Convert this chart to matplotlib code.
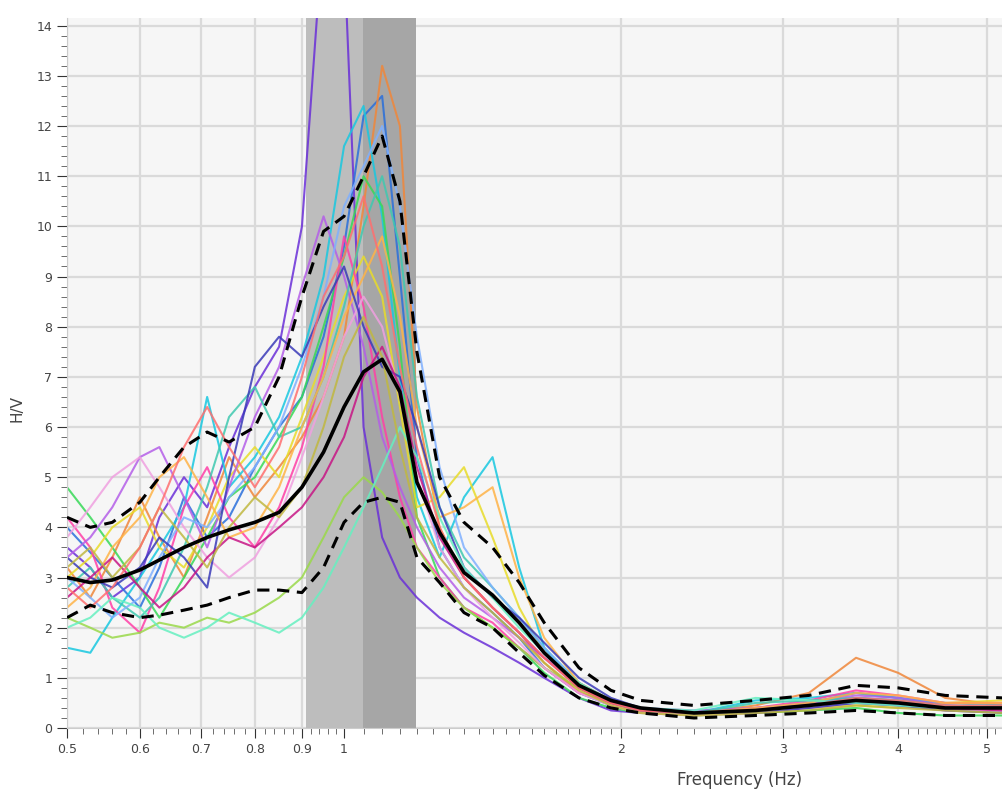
import matplotlib
matplotlib.use('Agg')
from matplotlib import pyplot as plt
from matplotlib.ticker import FixedLocator, MultipleLocator, NullFormatter
import numpy

# frequency samples shared by every curve (Hz)
FREQ = [0.50, 0.53, 0.56, 0.60, 0.63, 0.67, 0.71, 0.75, 0.80, 0.85,
        0.90, 0.95, 1.00, 1.05, 1.10, 1.15, 1.20, 1.27, 1.35, 1.45,
        1.55, 1.65, 1.80, 1.95, 2.10, 2.40, 2.80, 3.20, 3.60, 4.00,
        4.50, 5.20]

# H/V ratio of the individual time windows
WIN_01 = [3.6, 3.2, 2.6, 3.0, 4.2, 5.0, 4.4, 5.6, 6.8, 7.6, 10.0, 16.0, 15.5, 6.0, 3.8, 3.0,
          2.6, 2.2, 1.9, 1.6, 1.3, 1.0, 0.6, 0.35, 0.3, 0.3, 0.4, 0.5, 0.7, 0.6, 0.45, 0.4]
WIN_02 = [4.0, 3.5, 3.0, 2.4, 3.2, 4.6, 3.8, 4.2, 5.2, 6.0, 6.6, 7.8, 9.6, 12.2, 12.6, 9.0,
          5.4, 3.6, 2.8, 2.3, 1.8, 1.2, 0.7, 0.45, 0.35, 0.3, 0.35, 0.5, 0.6, 0.55, 0.4, 0.35]
WIN_03 = [3.2, 2.6, 3.4, 4.6, 3.8, 3.0, 4.2, 5.4, 4.6, 5.2, 5.8, 6.6, 7.8, 10.4, 13.2, 12.0,
          6.4, 4.0, 3.0, 2.4, 1.9, 1.3, 0.7, 0.5, 0.35, 0.3, 0.45, 0.7, 1.4, 1.1, 0.6, 0.45]
WIN_04 = [1.6, 1.5, 2.2, 3.0, 3.6, 4.4, 6.6, 4.8, 5.4, 6.2, 7.4, 9.0, 11.6, 12.4, 10.2, 7.0,
          4.6, 3.4, 4.6, 5.4, 3.2, 1.6, 0.8, 0.5, 0.35, 0.3, 0.55, 0.6, 0.7, 0.6, 0.5, 0.45]
WIN_05 = [4.8, 4.2, 3.6, 2.8, 2.2, 3.0, 3.8, 4.6, 5.0, 5.8, 6.6, 8.0, 9.4, 11.0, 10.4, 7.6,
          4.2, 3.0, 2.4, 2.0, 1.6, 1.1, 0.6, 0.4, 0.3, 0.25, 0.3, 0.35, 0.4, 0.3, 0.25, 0.25]
WIN_06 = [3.0, 3.4, 4.0, 4.4, 3.6, 3.2, 4.0, 5.0, 5.6, 5.0, 6.2, 7.4, 8.6, 9.4, 8.6, 6.4,
          4.4, 4.6, 5.2, 3.8, 2.4, 1.5, 0.8, 0.45, 0.3, 0.25, 0.3, 0.4, 0.45, 0.4, 0.5, 0.55]
WIN_07 = [4.2, 3.6, 2.4, 1.9, 2.8, 4.4, 5.2, 4.2, 3.6, 4.4, 5.6, 7.2, 9.8, 8.4, 6.2, 4.6,
          3.6, 3.0, 2.4, 2.1, 1.6, 1.2, 0.7, 0.5, 0.35, 0.3, 0.4, 0.55, 0.75, 0.65, 0.5, 0.5]
WIN_08 = [3.4, 3.8, 4.4, 5.4, 5.6, 4.6, 3.6, 4.8, 6.2, 7.2, 8.8, 10.2, 9.0, 7.6, 5.8, 4.8,
          4.0, 3.2, 2.6, 2.2, 1.8, 1.4, 0.9, 0.55, 0.4, 0.35, 0.4, 0.5, 0.65, 0.6, 0.45, 0.4]
WIN_09 = [2.8, 3.2, 2.6, 2.2, 2.6, 3.6, 4.8, 6.2, 6.8, 5.8, 6.0, 7.0, 8.4, 10.0, 11.0, 9.6,
          6.6, 4.4, 3.4, 2.8, 2.2, 1.6, 0.9, 0.5, 0.35, 0.3, 0.5, 0.55, 0.6, 0.55, 0.45, 0.4]
WIN_10 = [2.2, 2.0, 1.8, 1.9, 2.1, 2.0, 2.2, 2.1, 2.3, 2.6, 3.0, 3.8, 4.6, 5.0, 4.7, 4.2,
          3.6, 2.9, 2.4, 2.0, 1.6, 1.2, 0.8, 0.5, 0.35, 0.3, 0.35, 0.45, 0.5, 0.45, 0.4, 0.4]
WIN_11 = [3.8, 4.4, 5.0, 5.4, 4.8, 4.0, 3.4, 3.0, 3.4, 4.2, 5.4, 6.6, 7.8, 8.6, 8.0, 6.6,
          5.0, 3.6, 2.8, 2.2, 1.7, 1.2, 0.7, 0.45, 0.3, 0.25, 0.3, 0.4, 0.5, 0.45, 0.35, 0.35]
WIN_12 = [3.0, 2.6, 2.2, 2.6, 3.4, 4.2, 4.0, 4.6, 5.2, 6.0, 7.2, 8.6, 10.4, 11.2, 12.0, 10.4,
          7.8, 5.2, 3.6, 2.8, 2.2, 1.6, 0.9, 0.55, 0.4, 0.3, 0.35, 0.45, 0.55, 0.5, 0.4, 0.4]
WIN_13 = [2.4, 2.8, 3.6, 4.2, 5.0, 5.4, 4.6, 3.8, 4.0, 4.8, 6.0, 7.0, 8.2, 9.0, 9.8, 8.2,
          6.0, 4.2, 4.4, 4.8, 3.0, 1.8, 0.9, 0.55, 0.4, 0.3, 0.4, 0.5, 0.7, 0.65, 0.5, 0.5]
WIN_14 = [3.4, 3.0, 2.8, 3.2, 3.8, 3.4, 2.8, 5.0, 7.2, 7.8, 7.4, 8.4, 9.2, 8.0, 7.2, 7.0,
          6.0, 4.4, 3.2, 2.6, 2.2, 1.7, 1.0, 0.6, 0.4, 0.3, 0.3, 0.4, 0.5, 0.45, 0.35, 0.3]
WIN_15 = [2.6, 3.0, 3.4, 2.8, 2.4, 2.8, 3.4, 3.8, 3.6, 4.0, 4.4, 5.0, 5.8, 7.0, 7.6, 6.8,
          5.2, 3.8, 3.0, 2.4, 1.9, 1.4, 0.8, 0.5, 0.35, 0.3, 0.35, 0.45, 0.55, 0.5, 0.4, 0.35]
WIN_16 = [2.0, 2.2, 2.6, 2.4, 2.0, 1.8, 2.0, 2.3, 2.1, 1.9, 2.2, 2.8, 3.6, 4.4, 5.2, 6.0,
          5.4, 4.2, 3.2, 2.6, 2.0, 1.5, 0.9, 0.55, 0.4, 0.35, 0.6, 0.55, 0.5, 0.45, 0.4, 0.4]
WIN_17 = [3.2, 3.6, 3.0, 3.6, 4.4, 3.8, 3.2, 4.0, 4.6, 4.2, 4.8, 6.0, 7.4, 8.2, 7.4, 5.6,
          4.2, 3.4, 2.8, 2.3, 1.8, 1.3, 0.75, 0.45, 0.3, 0.25, 0.3, 0.35, 0.45, 0.4, 0.35, 0.3]
WIN_18 = [2.8, 2.4, 2.8, 3.6, 4.4, 5.6, 6.4, 5.6, 4.8, 5.6, 7.0, 8.6, 9.4, 10.6, 9.2, 7.2,
          5.6, 4.0, 3.0, 2.4, 1.9, 1.4, 0.8, 0.5, 0.35, 0.3, 0.35, 0.45, 0.6, 0.55, 0.45, 0.45]

WINDOWS = [WIN_01, WIN_02, WIN_03, WIN_04, WIN_05, WIN_06, WIN_07, WIN_08, WIN_09,
           WIN_10, WIN_11, WIN_12, WIN_13, WIN_14, WIN_15, WIN_16, WIN_17, WIN_18]
WIN_COLORS = ['#6a2fd8', '#2a6fdb', '#f0873a', '#18c8e0', '#37d957', '#e8dc2a',
              '#ff3fa7', '#b45ee8', '#3fc9b0', '#9ad94a', '#f0a0e0', '#7fb0ff',
              '#ffb347', '#3a3ab8', '#c71585', '#66f0c0', '#c0b840', '#ff6f6f']

# average curve and its +/- std curves
HV_MEAN = [3.0, 2.9, 2.95, 3.15, 3.35, 3.6, 3.8, 3.95, 4.1, 4.3, 4.8, 5.5, 6.4, 7.1, 7.35, 6.7,
           4.9, 3.9, 3.1, 2.65, 2.1, 1.5, 0.85, 0.55, 0.4, 0.3, 0.35, 0.45, 0.55, 0.5, 0.4, 0.4]
HV_UPPER = [4.2, 4.0, 4.1, 4.5, 5.0, 5.6, 5.9, 5.7, 6.0, 7.0, 8.6, 9.9, 10.2, 11.0, 11.8, 10.5,
            7.5, 5.0, 4.1, 3.6, 2.9, 2.1, 1.2, 0.75, 0.55, 0.45, 0.55, 0.65, 0.85, 0.8, 0.65, 0.6]
HV_LOWER = [2.2, 2.45, 2.3, 2.2, 2.25, 2.35, 2.45, 2.6, 2.75, 2.75, 2.7, 3.2, 4.1, 4.5, 4.6, 4.5,
            3.4, 2.9, 2.3, 2.0, 1.5, 1.05, 0.6, 0.4, 0.3, 0.2, 0.25, 0.3, 0.35, 0.3, 0.25, 0.25]

# peak frequency and its std band (Hz)
F0_LOW, F0, F0_HIGH = 0.909, 1.049, 1.197

XTICKS = [0.5, 0.6, 0.7, 0.8, 0.9, 1, 2, 3, 4, 5]
XTICK_LABELS = ['0.5', '0.6', '0.7', '0.8', '0.9', '1', '2', '3', '4', '5']


fig = plt.figure(figsize=(10.03, 7.94), dpi=100)
ax = fig.add_axes([0.0668, 0.0831, 0.9332, 0.894])
ax.set_facecolor('#f6f6f6')

ax.axvspan(F0_LOW, F0, color='#bdbdbd', lw=0, zorder=1)
ax.axvspan(F0, F0_HIGH, color='#a6a6a6', lw=0, zorder=1)

for values, color in zip(WINDOWS, WIN_COLORS):
    ax.plot(FREQ, values, color=color, lw=1.5, alpha=0.85, zorder=2)

ax.plot(FREQ, HV_MEAN, color='black', lw=2.6, zorder=4)
ax.plot(FREQ, HV_UPPER, color='black', lw=2.2, ls=(0, (4, 2.5)), zorder=4)
ax.plot(FREQ, HV_LOWER, color='black', lw=2.2, ls=(0, (4, 2.5)), zorder=4)

ax.set_xscale('log')
ax.set_xlim(0.5, 5.2)
ax.set_ylim(0, 14.15)

ax.xaxis.set_major_locator(FixedLocator(XTICKS))
ax.set_xticklabels(XTICK_LABELS)
minor_x = list(numpy.arange(0.5, 1.0, 0.02)) + list(numpy.arange(1.0, 2.0, 0.05)) + \
    list(numpy.arange(2.0, 5.2, 0.1))
ax.xaxis.set_minor_locator(FixedLocator(minor_x))
ax.xaxis.set_minor_formatter(NullFormatter())
ax.yaxis.set_major_locator(MultipleLocator(1))
ax.yaxis.set_minor_locator(MultipleLocator(0.2))

ax.tick_params(axis='both', which='major', labelsize=9, length=7, color='#333333',
               labelcolor='#444444')
ax.tick_params(axis='both', which='minor', length=4, color='#555555')

ax.grid(True, which='major', color='#dadada', lw=1.6, zorder=0)
ax.set_axisbelow(True)

for side in ['top', 'right']:
    ax.spines[side].set_visible(False)
for side in ['left', 'bottom']:
    ax.spines[side].set_color('#cccccc')

ax.set_xlabel('Frequency (Hz)', fontsize=12, color='#444444')
ax.xaxis.set_label_coords(0.719, -0.06)
ax.set_ylabel('H/V', fontsize=11, color='#444444')
ax.yaxis.set_label_coords(-0.045, 0.45)

fig.savefig('out.png', dpi=100)
plt.close()
